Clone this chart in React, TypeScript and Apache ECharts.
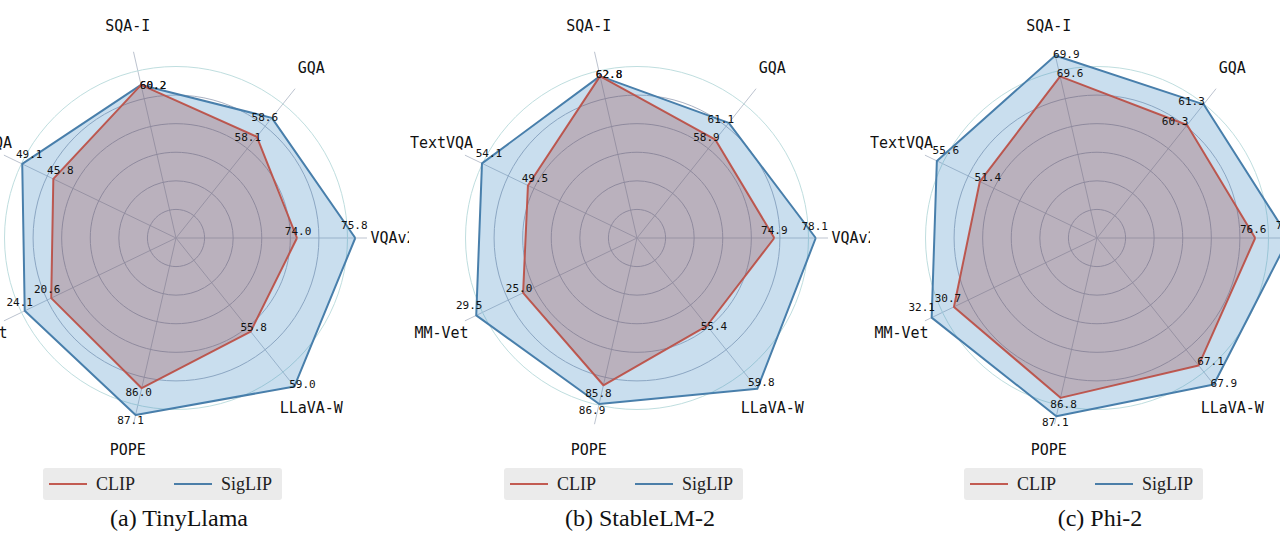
import React, { useEffect, useRef } from "react";
import * as echarts from "echarts";

// ---------- data ----------
const AXES = ["VQAv2", "GQA", "SQA-I", "TextVQA", "MM-Vet", "POPE", "LLaVA-W"];
const CAPTIONS = ["(a) TinyLlama", "(b) StableLM-2", "(c) Phi-2"];

const TINYLLAMA_CLIP = [74.0, 58.1, 60.2, 45.8, 20.6, 86.0, 55.8];
const TINYLLAMA_SIGLIP = [75.8, 58.6, 60.2, 49.1, 24.1, 87.1, 59.0];
const STABLELM_CLIP = [74.9, 58.9, 62.8, 49.5, 25.0, 85.8, 55.4];
const STABLELM_SIGLIP = [78.1, 61.1, 62.8, 54.1, 29.5, 86.9, 59.8];
const PHI2_CLIP = [76.6, 60.3, 69.6, 51.4, 30.7, 86.8, 67.1];
const PHI2_SIGLIP = [78.4, 61.3, 69.9, 55.6, 32.1, 87.1, 67.9];

// each spoke of each panel has its own radial range
const TINYLLAMA_MIN = [70.26, 55.41, 50.0, 32.77, 4.11, 79.81, 50.34];
const TINYLLAMA_MAX = [75.56, 58.97, 61.14, 49.18, 24.53, 86.7, 58.16];
const STABLELM_MIN = [64.29, 45.97, 50.0, 38.58, 14.06, 77.15, 49.28];
const STABLELM_MAX = [77.54, 63.6, 63.22, 54.05, 28.9, 86.97, 58.63];
const PHI2_MIN = [68.14, 54.83, 67.28, 39.95, 21.7, 84.19, 61.75];
const PHI2_MAX = [77.31, 61.32, 69.68, 55.05, 31.42, 86.92, 67.38];

// value-label offsets (px) from each vertex, per spoke
const TINYLLAMA_CLIP_LABEL_OFFSET = [[1, -7], [-9, 1], [12, 1], [7, -8], [-4, -9], [-3, 4], [3, -4]];
const TINYLLAMA_SIGLIP_LABEL_OFFSET = [[-1, -13], [-7, 0], [12, 1], [7, -9], [-5, -8], [-5, 6], [8, -2]];
const STABLELM_CLIP_LABEL_OFFSET = [[0, -8], [-9, -2], [9, -2], [7, -7], [-4, -4], [-5, 8], [7, 1]];
const STABLELM_SIGLIP_LABEL_OFFSET = [[-1, -12], [-8, -3], [9, -2], [7, -10], [-7, -10], [-7, 6], [4, -6]];
const PHI2_CLIP_LABEL_OFFSET = [[-2, -9], [-12, -3], [10, -3], [8, -4], [-6, -8], [3, 7], [12, -4]];
const PHI2_SIGLIP_LABEL_OFFSET = [[0, -13], [-12, -3], [11, -1], [9, -10], [-10, -10], [-1, 6], [10, -1]];

// ---------- style ----------
const CLIP_COLOR = "#c25b52";
const SIG_COLOR = "#4b7ea8";
const CLIP_AREA = "rgba(150,70,70,0.29)";
const SIG_AREA = "rgba(60,135,195,0.28)";
const MONO = '"DejaVu Sans Mono", "Liberation Mono", monospace';
const SERIF = '"Liberation Serif", "Times New Roman", serif';

const PANEL_W = 460;
const PANEL_H = 545;
const PANEL_LEFT = [-51, 410, 870];
const CX = 227;
const CY = 238;
const RING_R = 171.5;
const SPOKE_R = 191;
const NAME_R = 217;
const NAME_SIZE = 15;

const PANELS = [
  { caption: CAPTIONS[0], clip: TINYLLAMA_CLIP, sig: TINYLLAMA_SIGLIP, min: TINYLLAMA_MIN, max: TINYLLAMA_MAX, offClip: TINYLLAMA_CLIP_LABEL_OFFSET, offSig: TINYLLAMA_SIGLIP_LABEL_OFFSET },
  { caption: CAPTIONS[1], clip: STABLELM_CLIP, sig: STABLELM_SIGLIP, min: STABLELM_MIN, max: STABLELM_MAX, offClip: STABLELM_CLIP_LABEL_OFFSET, offSig: STABLELM_SIGLIP_LABEL_OFFSET },
  { caption: CAPTIONS[2], clip: PHI2_CLIP, sig: PHI2_SIGLIP, min: PHI2_MIN, max: PHI2_MAX, offClip: PHI2_CLIP_LABEL_OFFSET, offSig: PHI2_SIGLIP_LABEL_OFFSET },
];

function measure(text: string, font: string): number {
  const c = document.createElement("canvas").getContext("2d");
  if (!c) return text.length * 0.602 * NAME_SIZE;
  c.font = font;
  return c.measureText(text).width;
}

function spokeIndex(rect: any): number {
  const x = rect.x + rect.width / 2 - CX;
  const y = CY - (rect.y + rect.height / 2);
  let a = Math.atan2(y, x);
  if (a < 0) a += Math.PI * 2;
  return Math.round(a / ((Math.PI * 2) / AXES.length)) % AXES.length;
}

function buildOption(p: (typeof PANELS)[number]) {
  const labelFont = `${NAME_SIZE}px ${MONO}`;
  const valueLabel = {
    show: true,
    position: "inside",
    fontFamily: MONO,
    fontSize: 11,
    color: "#111",
    formatter: (prm: any) => {
      let v = prm.value;
      if (Array.isArray(v)) v = v[prm.dimensionIndex ?? 0];
      return Number(v).toFixed(1);
    },
  };
  const layoutWith = (offs: number[][]) => (prm: any) => {
    const k = spokeIndex(prm.rect);
    const o = offs[k] || [0, 0];
    return { dx: o[0], dy: o[1] };
  };
  return {
    animation: false,
    backgroundColor: "#ffffff",
    title: {
      text: p.caption,
      left: "center",
      top: 506,
      padding: 0,
      textStyle: { fontFamily: SERIF, fontSize: 24, fontWeight: "normal", color: "#111" },
    },
    legend: {
      data: [
        { name: "CLIP", itemStyle: { color: CLIP_COLOR } },
        { name: "SigLIP", itemStyle: { color: SIG_COLOR } },
      ],
      left: 94,
      top: 468,
      icon: "rect",
      itemWidth: 38,
      itemHeight: 2,
      itemGap: 39,
      padding: [7, 10, 7, 6],
      backgroundColor: "#ebebeb",
      borderRadius: 3,
      selectedMode: false,
      textStyle: { fontFamily: SERIF, fontSize: 18, color: "#222", padding: [0, 0, 0, 4] },
    },
    polar: { center: [CX, CY], radius: SPOKE_R },
    angleAxis: {
      type: "category",
      data: AXES.map((name) => {
        const w = measure(name, labelFont);
        return { value: name, textStyle: { padding: [0, -w / 2, 0, -w / 2] } };
      }),
      startAngle: 0,
      clockwise: false,
      boundaryGap: false,
      axisLine: { show: false },
      axisTick: { show: false },
      splitLine: { show: true, interval: 0, lineStyle: { color: "#bcc3cf", width: 1 } },
      axisLabel: {
        show: true,
        interval: 0,
        margin: NAME_R - SPOKE_R,
        fontFamily: MONO,
        fontSize: NAME_SIZE,
        color: "#111",
        lineHeight: 1,
      },
      z: 0,
    },
    radiusAxis: { type: "value", min: 0, max: 1, show: false, splitLine: { show: false } },
    radar: [
      {
        center: [CX, CY],
        radius: RING_R,
        startAngle: 0,
        splitNumber: 6,
        shape: "circle",
        indicator: AXES.map((name, i) => ({ name, min: p.min[i], max: p.max[i] })),
        axisName: { show: false },
        axisLine: { show: false },
        splitLine: { show: false },
        splitArea: { show: false },
      },
      {
        center: [CX, CY],
        radius: RING_R,
        startAngle: 0,
        splitNumber: 6,
        shape: "circle",
        indicator: AXES.map((name) => ({ name, min: 0, max: 6 })),
        axisName: { show: false },
        axisLine: { show: false },
        splitArea: { show: false },
        splitLine: {
          show: true,
          lineStyle: {
            width: 1,
            color: ["#aab2c3", "#aab2c3", "#aab2c3", "#aab2c3", "#aab2c3", "#aab2c3", "#bfdedf"],
          },
        },
        z: 0,
      },
    ],
    series: [
      {
        type: "radar",
        radarIndex: 0,
        name: "SigLIP",
        symbol: "circle",
        symbolSize: 0.1,
        itemStyle: { color: SIG_COLOR },
        lineStyle: { color: SIG_COLOR, width: 2 },
        areaStyle: { color: SIG_AREA, opacity: 1 },
        label: valueLabel,
        labelLayout: layoutWith(p.offSig),
        emphasis: { disabled: true },
        data: [{ name: "SigLIP", value: p.sig }],
        z: 3,
      },
      {
        type: "radar",
        radarIndex: 0,
        name: "CLIP",
        symbol: "circle",
        symbolSize: 0.1,
        itemStyle: { color: CLIP_COLOR },
        lineStyle: { color: CLIP_COLOR, width: 2 },
        areaStyle: { color: CLIP_AREA, opacity: 1 },
        label: valueLabel,
        labelLayout: layoutWith(p.offClip),
        emphasis: { disabled: true },
        data: [{ name: "CLIP", value: p.clip }],
        z: 4,
      },
    ],
  };
}

export default function App() {
  const r0 = useRef<HTMLDivElement>(null);
  const r1 = useRef<HTMLDivElement>(null);
  const r2 = useRef<HTMLDivElement>(null);

  useEffect(() => {
    document.body.style.margin = "0";
    const els = [r0.current, r1.current, r2.current];
    const charts = els.map((el, i) => {
      if (!el) return null;
      const c = echarts.init(el, undefined, { renderer: "svg", width: PANEL_W, height: PANEL_H });
      c.setOption(buildOption(PANELS[i]) as any);
      return c;
    });
    return () => {
      charts.forEach((c) => c && c.dispose());
    };
  }, []);

  const refs = [r0, r1, r2];
  return (
    <div
      style={{
        position: "fixed",
        left: 0,
        top: 0,
        width: 1280,
        height: 545,
        overflow: "hidden",
        background: "#ffffff",
      }}
    >
      {refs.map((r, i) => (
        <div
          key={i}
          style={{
            position: "absolute",
            left: PANEL_LEFT[i],
            top: 0,
            width: PANEL_W,
            height: PANEL_H,
            overflow: "hidden",
          }}
        >
          <div ref={r} style={{ width: PANEL_W, height: PANEL_H }} />
        </div>
      ))}
    </div>
  );
}
